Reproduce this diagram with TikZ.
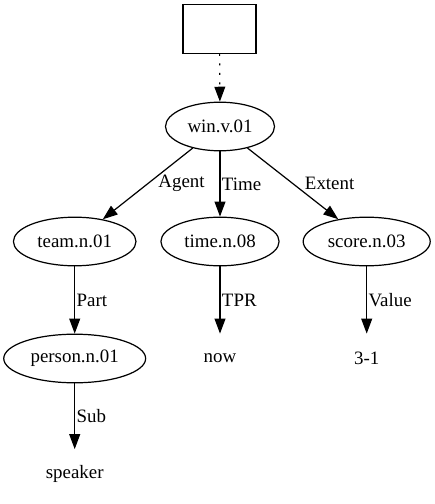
\documentclass[tikz,border=0pt]{standalone}
\usepackage{fontspec}
\setmainfont{Liberation Serif}
\usetikzlibrary{arrows.meta,shapes.geometric}

\begin{document}
\begin{tikzpicture}[x=0.7407pt,y=-0.7407pt,line width=0.9pt,
		font=\fontsize{14pt}{16pt}\selectfont,
		sense/.style={draw,ellipse,minimum height=36pt,inner xsep=4.5pt},
		leaf/.style={minimum height=36pt,inner sep=0pt},
		rel/.style={-{Triangle[length=11pt,width=8pt]}},
		lbl/.style={anchor=west,inner sep=1pt}]
		\useasboundingbox (0,0) rectangle (435,504);
		\node (top)[draw, minimum width=54pt, minimum height=36pt] at (219.5,29) {};
		\node (win)[sense] at (220,126.5) {win.v.01};
		\node (team)[sense] at (74.7,241.5) {team.n.01};
		\node (time)[sense] at (220,241.5) {time.n.08};
		\node (score)[sense] at (366.7,241.5) {score.n.03};
		\node (person)[sense] at (74.7,358.5) {person.n.01};
		\node (now)[leaf] at (220,358.5) {now};
		\node (res)[leaf] at (366.7,358.5) {3-1};
		\node (speaker)[leaf] at (74.7,474) {speaker};

		\draw [rel, dash pattern=on 1.5pt off 5.5pt](top)--(win);
		\draw [rel](win)--(team) node [lbl, midway, xshift=6.5pt]{Agent};
		\draw [rel](win)--(time) node [lbl, midway]{Time};
		\draw [rel](win)--(score) node [lbl, midway, xshift=7.5pt]{Extent};
		\draw [rel](team)--(person) node [lbl, midway]{Part};
		\draw [rel](time)--(now) node [lbl, midway]{TPR};
		\draw [rel](score)--(res) node [lbl, midway]{Value};
		\draw [rel](person)--(speaker) node [lbl, midway]{Sub};
	\end{tikzpicture}
\end{document}
